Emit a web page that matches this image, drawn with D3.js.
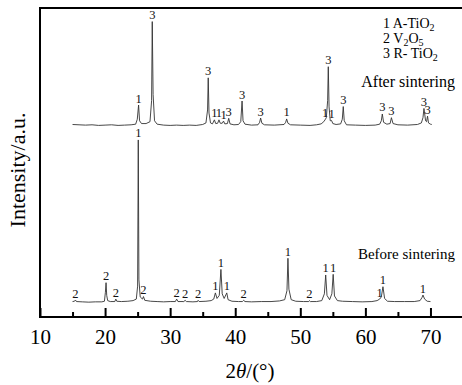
<!DOCTYPE html>
<html><head><meta charset="utf-8">
<script src="https://cdn.jsdelivr.net/npm/d3@7/dist/d3.min.js"></script>
<style>
html,body{margin:0;padding:0;background:#fff;}
svg{display:block;font-family:"Liberation Serif","Times New Roman",serif;}
</style></head>
<body><svg id="c" width="462" height="385"></svg>
<script>
// ---- data ----
const xTicks = [10, 20, 30, 40, 50, 60, 70];
const xMinorTicks = [15, 25, 35, 45, 55, 65];

// Before sintering: [2θ, intensity a.u.]
const beforeTrace = [
 [15.0,5.0],[15.3,5.1],[15.45,5.5],[15.6,5.0],[16.5,4.9],[17.5,4.8],[18.5,4.9],[19.5,4.9],[19.9,5.1],
 [20.05,8.0],[20.15,11.1],[20.25,7.0],[20.4,5.3],[20.8,5.0],[21.5,5.0],[21.65,5.8],[21.8,5.1],[22.5,5.0],
 [23.5,5.1],[24.3,5.3],[24.8,5.8],[25.0,10],[25.1,57.3],[25.2,12],[25.4,6.5],[25.75,5.8],[25.9,6.6],
 [26.1,5.4],[27,5.1],[28,5.0],[29,4.9],[30,5.0],[30.8,5.0],[31.0,5.8],[31.2,5.0],[32.1,5.0],[32.3,5.4],
 [32.5,5.0],[33.5,4.9],[34.2,5.0],[34.3,5.4],[34.45,5.0],[35.5,5.1],[36.3,5.3],[36.7,5.8],[36.95,7.8],
 [37.2,6.0],[37.55,7.0],[37.8,15.4],[38.0,7.5],[38.3,6.0],[38.7,7.8],[38.9,5.6],[39.5,5.1],[40.5,5.0],
 [41.1,5.0],[41.3,5.4],[41.5,5.0],[42.5,4.9],[44,5.0],[45.5,5.0],[46.8,5.2],[47.6,5.6],[47.95,8.5],
 [48.1,19.0],[48.25,9.0],[48.6,5.6],[49.3,5.1],[50.5,5.0],[51.3,5.0],[51.4,5.3],[51.55,5.0],[52.5,5.0],
 [53.3,5.3],[53.7,7.5],[53.9,13.6],[54.1,7.0],[54.5,5.6],[54.85,7.5],[55.05,13.8],[55.25,6.8],[55.7,5.3],
 [56.5,5.1],[58,5.0],[59.5,4.9],[61,5.0],[61.8,5.3],[62.2,5.8],[62.45,6.5],[62.7,9.8],[62.95,6.0],
 [63.4,5.1],[64.5,5.0],[66,5.0],[67.5,5.0],[68.4,5.3],[68.7,6.3],[68.85,7.1],[69.1,5.8],[69.5,5.1],[70.0,5.0]
];
// After sintering (offset trace): [2θ, intensity a.u.]
const afterTrace = [
 [15.0,62.3],[16,62.2],[17,62.1],[18,62.2],[19,62.0],[20,62.1],[21,62.2],[22,62.0],[23,62.1],[24,62.2],
 [24.7,62.4],[24.95,64],[25.15,68.6],[25.3,63.5],[25.6,62.6],[26.3,62.6],[26.9,63.2],[27.15,70],[27.25,95.6],
 [27.38,72],[27.6,63.5],[28.0,62.4],[29,62.1],[30,62.0],[31,62.1],[32,62.0],[33,62.1],[34,62.0],[35.0,62.3],
 [35.5,62.8],[35.75,67],[35.85,77.4],[35.97,66],[36.2,62.8],[36.5,62.5],[36.8,63.8],[37.0,62.6],[37.3,62.7],
 [37.5,63.8],[37.7,62.7],[38.0,62.7],[38.2,63.4],[38.4,62.5],[38.8,62.6],[39.0,64.3],[39.2,62.5],[39.8,62.2],
 [40.5,62.3],[40.85,63.2],[41.05,69.9],[41.2,63.5],[41.5,62.4],[42.5,62.1],[43.5,62.2],[43.75,63.0],[43.9,64.4],
 [44.1,62.7],[44.5,62.2],[46,62.1],[47.5,62.3],[47.75,63.0],[47.9,64.1],[48.1,62.7],[48.5,62.2],[50,62.1],
 [51.5,62.0],[52.5,62.2],[53.2,62.5],[53.6,63.2],[53.8,63.8],[54.0,64.5],[54.2,70],[54.3,81.0],[54.42,68],
 [54.6,63.5],[54.8,63.6],[55.0,62.6],[55.5,62.3],[56.2,62.5],[56.45,64],[56.6,68.1],[56.75,63.5],[57.1,62.2],
 [58.5,62.1],[60,62.0],[61.5,62.1],[62.2,62.4],[62.45,63.5],[62.6,65.7],[62.8,63.0],[63.3,62.4],[63.8,62.6],
 [64.0,64.5],[64.25,62.6],[65,62.2],[66.5,62.1],[68.0,62.3],[68.6,62.8],[68.85,64.5],[69.0,67.5],[69.25,63.5],
 [69.4,63.2],[69.55,65.0],[69.7,62.8],[70.0,62.4],[70.2,62.3]
];

// Peak labels: 2θ position and phase number
const beforeLabelTheta = [15.45, 20.15, 21.65, 25.1, 25.9, 31.0, 32.3, 34.3, 36.95, 37.8, 38.7, 41.3, 48.1, 51.4, 53.9, 55.05, 62.2, 62.7, 68.85];
const beforeLabelText  = ["2","2","2","1","2","2","2","2","1","1","1","2","1","2","1","1","1","1","1"];
const afterLabelTheta  = [25.15, 27.25, 35.85, 36.8, 37.5, 38.2, 39.0, 41.05, 43.9, 47.9, 53.8, 54.3, 54.8, 56.6, 62.6, 64.0, 69.0, 69.55];
const afterLabelText   = ["1","3","3","1","1","1","3","3","3","1","1","3","1","3","3","3","3","3"];

const legendNumbers = ["1", "2", "3"];
const legendPhases = [["A-TiO","2"], ["V","2","O","5"], ["R- TiO","2"]];
const traceNames = ["Before sintering", "After sintering"];

// ---- drawing ----
const svg = d3.select("#c");
const x = d3.scaleLinear().domain([10, 75]).range([40, 463]);
const y = d3.scaleLinear().domain([0, 100]).range([317, 8]);

const line = d3.line().x(d => x(d[0])).y(d => y(d[1]));

[beforeTrace, afterTrace].forEach(tr => {
  svg.append("path").datum(tr).attr("d", line)
    .attr("fill", "none").attr("stroke", "#333").attr("stroke-width", 0.9)
    .attr("stroke-linejoin", "round");
});

function peakTop(trace, t) {
  return d3.max(trace.filter(d => Math.abs(d[0] - t) < 0.12), d => d[1]);
}
function drawLabels(trace, thetas, texts) {
  svg.append("g").selectAll("text").data(thetas).join("text")
    .attr("x", t => x(t)).attr("y", t => y(peakTop(trace, t)) - 2.5)
    .attr("text-anchor", "middle").attr("font-size", 12.5).attr("fill", "#111")
    .text((t, i) => texts[i]);
}
drawLabels(beforeTrace, beforeLabelTheta, beforeLabelText);
drawLabels(afterTrace, afterLabelTheta, afterLabelText);

// frame
svg.append("rect").attr("x", x(10)).attr("y", y(100))
  .attr("width", x(75) - x(10)).attr("height", y(0) - y(100))
  .attr("fill", "none").attr("stroke", "#000").attr("stroke-width", 2);

// x axis
const gx = svg.append("g").attr("transform", `translate(0,${y(0)})`)
  .call(d3.axisBottom(x).tickValues(xTicks).tickSize(-9).tickSizeOuter(0).tickPadding(12).tickFormat(d3.format("d")));
gx.select(".domain").remove();
gx.selectAll("line").attr("stroke", "#000").attr("stroke-width", 2);
gx.selectAll("text").attr("font-size", 21).attr("fill", "#000")
  .attr("font-family", "Liberation Serif, serif");
const gm = svg.append("g").attr("transform", `translate(0,${y(0)})`)
  .call(d3.axisBottom(x).tickValues(xMinorTicks).tickSize(-5).tickSizeOuter(0).tickFormat(""));
gm.select(".domain").remove();
gm.selectAll("line").attr("stroke", "#000").attr("stroke-width", 2);

// axis titles
const xt = svg.append("text").attr("x", 250).attr("y", 378).attr("text-anchor", "middle").attr("font-size", 21);
xt.append("tspan").text("2");
xt.append("tspan").attr("font-style", "italic").text("θ");
xt.append("tspan").text("/(°)");

svg.append("text").attr("transform", "translate(25,170) rotate(-90)")
  .attr("text-anchor", "middle").attr("font-size", 22).text("Intensity/a.u.");

// legend
legendNumbers.forEach((n, i) => {
  const t = svg.append("text").attr("x", 383).attr("y", 28 + i * 15).attr("font-size", 14);
  t.append("tspan").text(n + " ");
  legendPhases[i].forEach((p, j) => {
    const isSub = /^\d$/.test(p);
    t.append("tspan").attr("font-size", isSub ? 10 : 14)
      .attr("dy", isSub ? 3 : (j > 0 ? -3 : 0)).text(p);
  });
});

svg.append("text").attr("x", 455).attr("y", 259).attr("text-anchor", "end").attr("font-size", 15).text(traceNames[0]);
svg.append("text").attr("x", 455).attr("y", 87).attr("text-anchor", "end").attr("font-size", 16).text(traceNames[1]);
</script></body></html>
